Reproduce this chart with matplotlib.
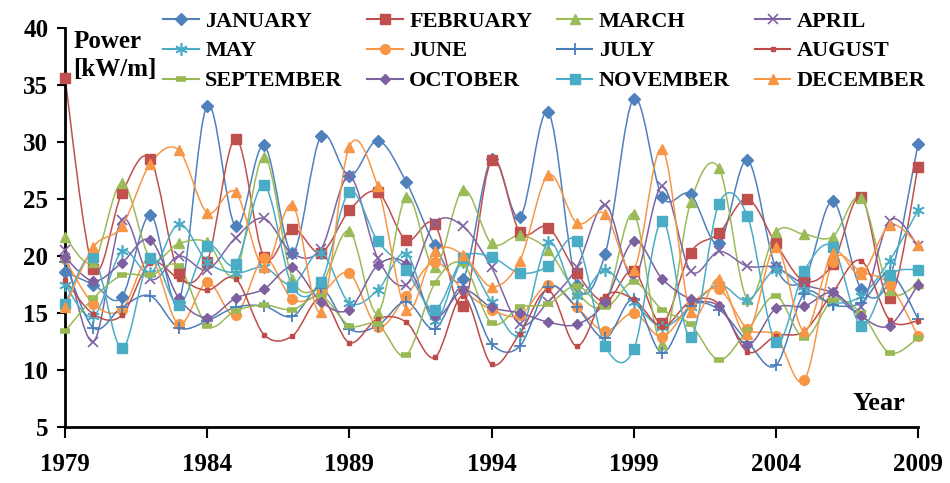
import matplotlib.pyplot as plt
from matplotlib.path import Path
from matplotlib.patches import PathPatch
from matplotlib.lines import Line2D

years = list(range(1979, 2010))

january = [18.6, 17.5, 16.4, 23.6, 16.0, 33.2, 22.6, 29.7, 20.3, 30.5, 27.0, 30.1, 26.5, 21.0, 18.0, 28.5,
           23.4, 32.6, 17.5, 20.2, 33.8, 25.2, 25.4, 21.1, 28.4, 19.0, 18.0, 24.8, 17.1, 18.0, 29.8]
february = [35.6, 18.9, 25.5, 28.5, 18.5, 19.5, 30.3, 19.9, 22.4, 20.3, 24.0, 25.6, 21.4, 22.8, 15.6, 28.4,
            22.1, 22.5, 18.5, 16.0, 18.7, 14.1, 20.3, 22.0, 25.0, 21.1, 17.8, 19.3, 25.2, 16.3, 27.8]
march = [21.7, 19.5, 26.4, 19.8, 21.1, 21.2, 18.5, 28.7, 18.0, 17.5, 22.2, 15.0, 25.2, 19.0, 25.8, 21.1,
         21.8, 20.5, 16.8, 15.9, 23.7, 12.3, 24.7, 27.7, 16.2, 22.1, 21.9, 21.7, 25.1, 17.0, 17.6]
april = [20.5, 12.5, 23.2, 18.0, 20.0, 18.8, 21.6, 23.3, 20.2, 20.6, 27.0, 19.8, 17.5, 22.9, 22.6, 19.0,
         14.0, 16.0, 19.0, 24.5, 18.0, 26.1, 18.7, 20.4, 19.1, 19.0, 17.5, 16.8, 15.5, 23.1, 20.9]
may = [17.5, 14.7, 20.4, 18.5, 22.8, 19.5, 18.5, 19.0, 17.5, 20.3, 15.9, 17.0, 20.2, 14.3, 19.5, 16.0,
       13.2, 21.2, 16.5, 18.8, 16.0, 13.8, 15.5, 17.5, 16.1, 18.8, 17.0, 15.9, 16.5, 19.6, 24.0]
june = [19.7, 15.8, 15.3, 19.8, 14.0, 17.7, 14.8, 19.8, 16.2, 16.7, 18.5, 13.8, 16.5, 19.5, 17.0, 15.3,
        14.8, 17.5, 15.5, 13.4, 15.0, 12.9, 15.7, 17.1, 13.6, 13.0, 9.1, 19.5, 18.6, 17.5, 13.0]
july = [19.5, 13.7, 15.5, 16.5, 13.7, 14.3, 15.5, 15.6, 14.7, 17.2, 13.6, 13.9, 16.0, 13.6, 17.3, 12.3,
        12.1, 17.3, 15.5, 12.8, 16.2, 11.5, 15.6, 15.3, 12.5, 10.4, 16.7, 15.7, 15.9, 18.5, 14.5]
august = [17.9, 14.9, 14.8, 19.4, 18.0, 17.0, 18.0, 13.1, 13.0, 16.3, 12.4, 14.5, 14.2, 11.1, 16.5, 10.5,
          13.2, 17.0, 12.1, 16.5, 16.2, 13.8, 16.0, 15.8, 11.6, 13.0, 13.4, 16.8, 19.6, 14.4, 14.3]
september = [13.4, 16.3, 18.3, 18.3, 19.1, 13.9, 15.2, 15.7, 15.3, 16.5, 13.9, 14.0, 11.3, 17.6, 19.3, 14.1,
             15.5, 15.8, 17.4, 15.5, 17.7, 15.3, 14.0, 10.9, 13.5, 16.5, 12.8, 16.1, 15.0, 11.5, 12.8]
october = [19.9, 17.8, 19.4, 21.4, 16.3, 14.6, 16.3, 17.1, 19.0, 16.0, 15.3, 19.2, 19.3, 14.7, 17.0, 15.5,
           15.0, 14.2, 14.0, 16.0, 21.3, 18.0, 16.2, 15.6, 12.2, 15.4, 15.6, 16.8, 14.7, 13.9, 17.5]
november = [15.8, 19.9, 11.9, 19.8, 15.7, 20.9, 19.3, 26.2, 17.3, 17.7, 25.6, 21.3, 18.8, 15.3, 19.8, 19.9,
            18.5, 19.1, 21.3, 12.1, 11.8, 23.1, 12.9, 24.6, 23.5, 12.5, 18.7, 20.8, 13.9, 18.3, 18.8]
december = [15.5, 20.8, 22.6, 28.1, 29.3, 23.8, 25.6, 19.0, 24.5, 15.1, 29.6, 26.1, 15.3, 20.4, 20.1, 17.3,
            19.6, 27.1, 22.9, 23.7, 18.8, 29.4, 15.1, 18.0, 13.2, 20.8, 13.4, 20.3, 18.4, 22.7, 21.0]

series = [
    ("JANUARY", january, dict(color="#4F81BD", marker="D", ms=6.5)),
    ("FEBRUARY", february, dict(color="#C0504D", marker="s", ms=7)),
    ("MARCH", march, dict(color="#9BBB59", marker="^", ms=7.5)),
    ("APRIL", april, dict(color="#8064A2", marker="x", ms=7, mew=1.2)),
    ("MAY", may, dict(color="#4BACC6", marker=(6, 2, 0), ms=9, mew=1.2)),
    ("JUNE", june, dict(color="#F79646", marker="o", ms=7)),
    ("JULY", july, dict(color="#4A7EBB", marker="+", ms=9, mew=1.3)),
    ("AUGUST", august, dict(color="#BE4B48", marker="s", ms=3.5)),
    ("SEPTEMBER", september, dict(color="#98B954", marker="_", ms=7, mew=4)),
    ("OCTOBER", october, dict(color="#7D60A0", marker="D", ms=5.5)),
    ("NOVEMBER", november, dict(color="#4BACC6", marker="s", ms=7)),
    ("DECEMBER", december, dict(color="#F79646", marker="^", ms=7.5)),
]


def smooth_path(xs, ys):
    # bezier segments like Excel's smoothed lines
    pts = list(zip(xs, ys))
    n = len(pts)
    verts = [pts[0]]
    codes = [Path.MOVETO]
    for i in range(n - 1):
        p0 = pts[i - 1] if i > 0 else pts[i]
        p1 = pts[i]
        p2 = pts[i + 1]
        p3 = pts[i + 2] if i + 2 < n else pts[i + 1]
        c1 = (p1[0] + (p2[0] - p0[0]) / 6, p1[1] + (p2[1] - p0[1]) / 6)
        c2 = (p2[0] - (p3[0] - p1[0]) / 6, p2[1] - (p3[1] - p1[1]) / 6)
        verts += [c1, c2, p2]
        codes += [Path.CURVE4] * 3
    return Path(verts, codes)


plt.rcParams['font.family'] = ['Liberation Serif', 'DejaVu Serif']
plt.rcParams['font.weight'] = 'bold'

fig = plt.figure(figsize=(9.5, 4.83), dpi=100)
ax = fig.add_axes([65 / 950, 1 - 427 / 483, 853 / 950, 399 / 483])

handles = {}
for k, (name, vals, st) in enumerate(series):
    color = st["color"]
    ax.add_patch(PathPatch(smooth_path(years, vals), fill=False, edgecolor=color, lw=1.1,
                           zorder=2 + k * 0.01))
    ax.plot(years, vals, linestyle="none", marker=st["marker"], ms=st["ms"], mew=st.get("mew", 1),
            color=color, mfc=color, mec=color, clip_on=False, zorder=3 + k * 0.01)
    handles[name] = Line2D([], [], color=color, lw=1.5, marker=st["marker"], ms=st["ms"],
                           mew=st.get("mew", 1), mfc=color, mec=color)

ax.set_xlim(1979, 2009)
ax.set_ylim(5, 40)
ax.set_xticks(range(1979, 2010, 5))
ax.set_yticks(range(5, 41, 5))
for s in ["top", "right"]:
    ax.spines[s].set_visible(False)
for s in ["left", "bottom"]:
    ax.spines[s].set_linewidth(2)
ax.tick_params(axis="y", direction="out", length=6, width=1.5, labelsize=18, pad=6)
ax.tick_params(axis="x", direction="out", length=8, width=1.5, labelsize=18, pad=11)

ax.text(0.01, 0.995, "Power\n[kW/m]", transform=ax.transAxes, ha="left", va="top",
        fontsize=18, fontweight="bold", linespacing=1.3)
ax.text(0.985, 0.058, "Year", transform=ax.transAxes, ha="right", va="center",
        fontsize=19, fontweight="bold")

order = ["JANUARY", "MAY", "SEPTEMBER", "FEBRUARY", "JUNE", "OCTOBER",
         "MARCH", "JULY", "NOVEMBER", "APRIL", "AUGUST", "DECEMBER"]
fig.legend([handles[o] for o in order], order, ncol=4, loc="upper left",
           bbox_to_anchor=(163 / 950, 1 - 11 / 483), frameon=False, fontsize=16,
           borderpad=0, borderaxespad=0, handlelength=1.6, handletextpad=0.3,
           columnspacing=1.1, labelspacing=0.42)

fig.savefig("out.png", dpi=100)
